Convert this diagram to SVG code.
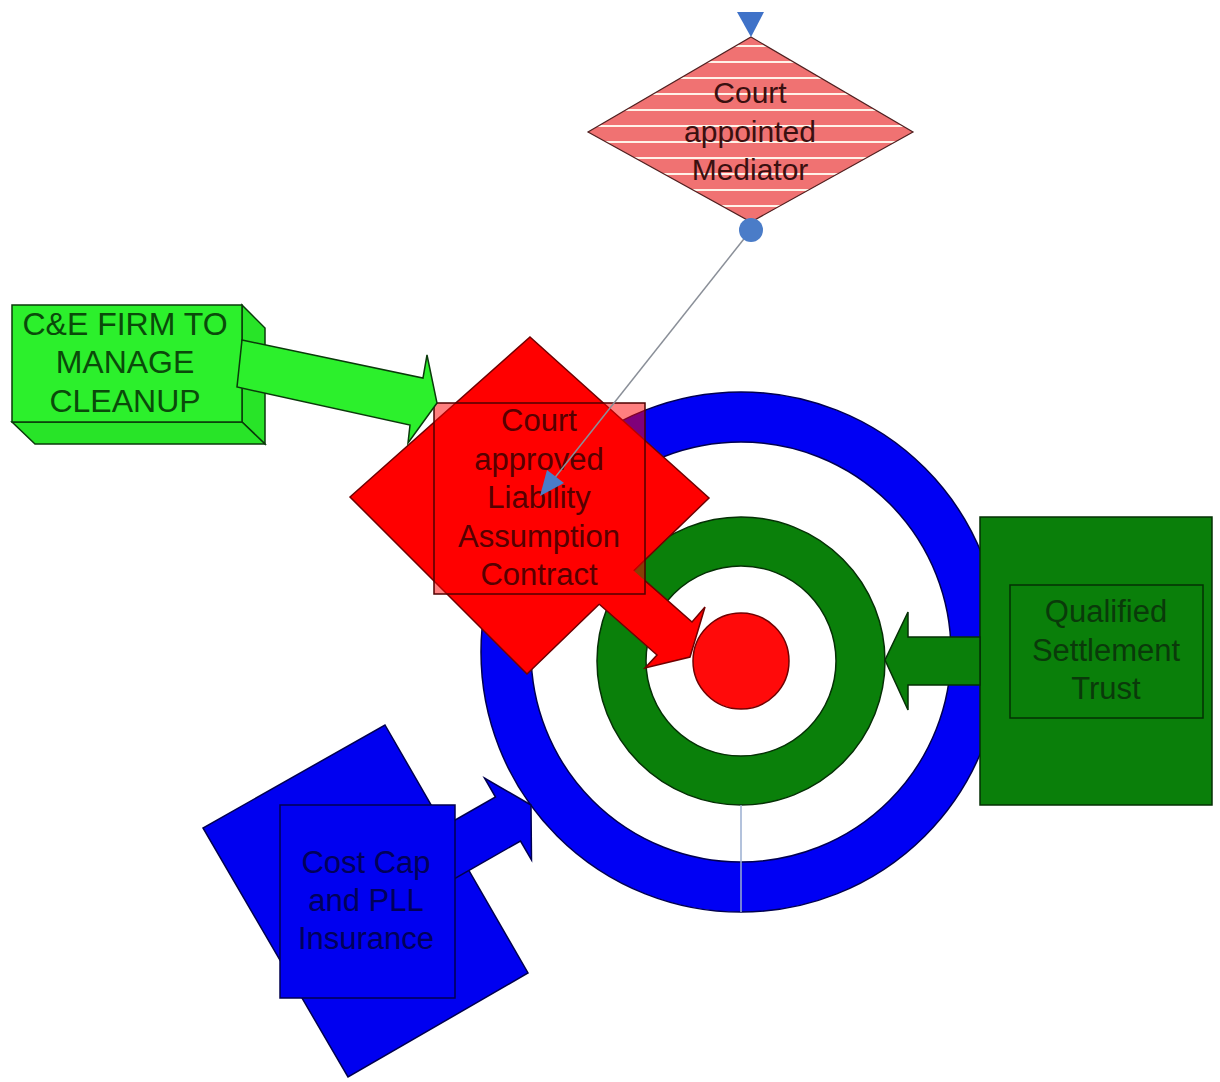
<svg xmlns="http://www.w3.org/2000/svg" width="1220" height="1082" viewBox="0 0 1220 1082">
<defs>
<pattern id="stripes" patternUnits="userSpaceOnUse" x="0" y="0" width="20" height="16">
<rect width="20" height="16" fill="#f07272"/>
<rect y="13" width="20" height="2" fill="#fff2e8"/>
</pattern>
</defs>
<style>
text{font-family:"Liberation Sans",Arial,sans-serif;text-anchor:middle}
.lbl{font-size:31px}
.ol{stroke-width:1.5}
</style>
<rect width="1220" height="1082" fill="#ffffff"/>

<g id="target">
<path d="M481,652a260,260 0 1,0 520,0a260,260 0 1,0 -520,0ZM531,652a210,210 0 1,0 420,0a210,210 0 1,0 -420,0Z" fill="#0000f4" fill-rule="evenodd" stroke="#000050" class="ol"/>
<path d="M597,661a144,144 0 1,0 288,0a144,144 0 1,0 -288,0ZM646,661a95,95 0 1,0 190,0a95,95 0 1,0 -190,0Z" fill="#0a800a" fill-rule="evenodd" stroke="#053005" class="ol"/>
<circle cx="741" cy="661" r="48" fill="#ff0a0a" stroke="#700000" class="ol"/>
</g>

<g id="connectors">
<line x1="741" y1="805" x2="741" y2="912" stroke="#9aaed0" stroke-width="1.5"/>
</g>

<g id="trust">
<rect x="980" y="517" width="232" height="288" fill="#0a7f0a" stroke="#053005" class="ol"/>
<rect x="1010" y="585" width="193" height="133" fill="#0a7f0a" stroke="#053005" class="ol"/>
<polygon points="980,637 908,637 908,612 885,660 908,710 908,685 980,685" fill="#0a7f0a" stroke="#053005" class="ol"/>
<text class="lbl" x="1106" y="622" fill="#0a3a0a">Qualified</text>
<text class="lbl" x="1106" y="661" fill="#0a3a0a">Settlement</text>
<text class="lbl" x="1106" y="699" fill="#0a3a0a">Trust</text>
</g>

<g id="insurance">
<polygon points="385,725 528,973 348,1077 203,828" fill="#0000f0" stroke="#000050" class="ol"/>
<polygon points="425.5,837 495.5,797 484.5,778 531,805 531.5,860 520.5,841 450.5,881" fill="#0000f0" stroke="#000050" class="ol"/>
<rect x="280" y="805" width="175" height="193" fill="#0000f0" stroke="#000050" class="ol"/>
<text class="lbl" x="366" y="873" fill="#00005a">Cost Cap</text>
<text class="lbl" x="366" y="911" fill="#00005a">and PLL</text>
<text class="lbl" x="366" y="949" fill="#00005a">Insurance</text>
</g>

<g id="contract">
<polygon points="530,337 709,498 527,674 350,497" fill="#ff0000" stroke="#700000" class="ol"/>
<polygon points="617,556 692,622 705,607 690,657 645,668 657,655 582,589" fill="#ff0000"/>
<polyline points="645,580.6 692,622 705,607 690,657 645,668 657,655 599,604" fill="none" stroke="#700000" class="ol"/>
<rect x="434" y="403" width="211" height="191" fill="#ff0000" fill-opacity="0.5" stroke="#500000" class="ol"/>
<text class="lbl" x="539" y="431" fill="#560000">Court</text>
<text class="lbl" x="539" y="469.5" fill="#560000">approved</text>
<text class="lbl" x="539" y="508" fill="#560000">Liability</text>
<text class="lbl" x="539" y="546.5" fill="#560000">Assumption</text>
<text class="lbl" x="539" y="585" fill="#560000">Contract</text>
</g>

<g id="cleanup">
<polygon points="242,305 265,328 265,444 242,422" fill="#28e428" stroke="#0a3a0a" class="ol"/>
<polygon points="12,422 242,422 265,444 35,444" fill="#28e428" stroke="#0a3a0a" class="ol"/>
<rect x="12" y="305" width="230" height="117" fill="#2cf02c" stroke="#0a3a0a" class="ol"/>
<polygon points="242,340 423,378 427,355 437,403 408,443 410,425 237,387" fill="#2cf02c" stroke="#0a3a0a" class="ol"/>
<text x="125" y="335" font-size="32" fill="#0a4a0a">C&amp;E FIRM TO</text>
<text x="125" y="373" font-size="32" fill="#0a4a0a">MANAGE</text>
<text x="125" y="412" font-size="32" fill="#0a4a0a">CLEANUP</text>
</g>

<g id="mediator">
<polygon points="751,37 913,132 751,222 588,132" fill="url(#stripes)" stroke="#502020" stroke-width="1.2"/>
<text x="750" y="103" font-size="30" fill="#3a1010">Court</text>
<text x="750" y="142" font-size="30" fill="#3a1010">appointed</text>
<text x="750" y="180" font-size="30" fill="#3a1010">Mediator</text>
</g>

<g id="mediator-links">
<polygon points="737,12 764,12 751,37" fill="#3f72c8"/>
<line x1="751" y1="230" x2="553" y2="480" stroke="#8a8f98" stroke-width="1.5"/>
<circle cx="751" cy="230" r="12" fill="#4a7cc8"/>
<polygon points="540,496 564,483 547,470" fill="#4a7cc8"/>
</g>
</svg>
